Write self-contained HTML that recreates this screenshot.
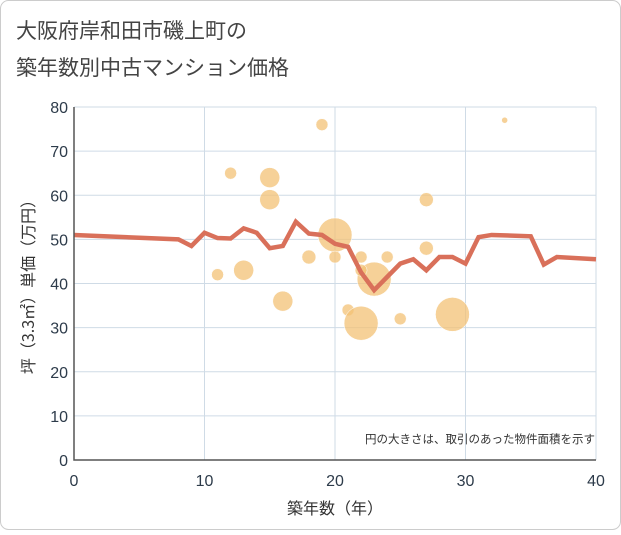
<!DOCTYPE html>
<html><head><meta charset="utf-8"><style>
body{margin:0;background:#fff;font-family:"Liberation Sans","Noto Sans CJK JP",sans-serif;}
#wrap{position:relative;width:621px;height:530px;}
</style></head><body><div id="wrap">
<svg id="chart" width="621" height="530">
<rect x="0.5" y="0.5" width="620" height="529" rx="8" fill="#fff" stroke="#ccc"/>
<text x="16" y="38" font-size="21" fill="#444" font-family="Noto Sans CJK JP,sans-serif">大阪府岸和田市磯上町の</text>
<text x="16" y="75" font-size="21" fill="#444" font-family="Noto Sans CJK JP,sans-serif">築年数別中古マンション価格</text>
<g id="grid"></g><g id="bubbles"></g><g id="line"></g><g id="axes"></g>
<text x="595" y="443" font-size="11.5" fill="#333" text-anchor="end" font-family="Noto Sans CJK JP,sans-serif">円の大きさは、取引のあった物件面積を示す</text>
<text x="335" y="514" font-size="16" fill="#333" text-anchor="middle" font-family="Noto Sans CJK JP,sans-serif">築年数（年）</text>
<text transform="translate(34,283) rotate(-90)" font-size="16" fill="#333" text-anchor="middle" font-family="Noto Sans CJK JP,sans-serif">坪（3.3㎡）単価（万円）</text>
</svg></div>
<script>
const xTicks=[0,10,20,30,40];
const yTicks=[0,10,20,30,40,50,60,70,80];
const lineYears=[0,8,9,10,11,12,13,14,15,16,17,18,19,20,21,22,23,24,25,26,27,28,29,30,31,32,35,36,37,40];
const linePrices=[51,50,48.5,51.5,50.3,50.2,52.5,51.5,48,48.5,54,51.3,51,49,48.3,42.5,38.5,41.5,44.5,45.5,43,46,46,44.5,50.5,51,50.7,44.3,46,45.5];
const bubbleYears=[19,33,12,15,15,27,20,27,18,20,22,24,11,13,23,22,16,21,22,25,29];
const bubblePrices=[76,77,65,64,59,59,51,48,46,46,46,46,42,43,41,43,36,34,31,32,33];
const bubbleSizes=[6,3,6,10,10,7,17,7,7,6,6,6,6,10,17,6,10,6,17,6,17];
const NS="http://www.w3.org/2000/svg";
const X0=74,X1=596,Y0=460,Y1=107;
const sx=v=>X0+(v-0)/(40)*(X1-X0);
const sy=v=>Y0-(v/80)*(Y0-Y1);
function mk(t,a,p){const e=document.createElementNS(NS,t);for(const k in a)e.setAttribute(k,a[k]);p.appendChild(e);return e;}
const grid=document.getElementById('grid'),axes=document.getElementById('axes');
yTicks.forEach(v=>{const l=mk('line',{x1:X0,x2:X1,y1:sy(v),y2:sy(v),stroke:'#cfdbe6'},grid);


const t=mk('text',{x:X0-6,y:sy(v)+6,'font-size':16,fill:'#2d3b4a','text-anchor':'end'},axes);t.textContent=v;

});
xTicks.forEach(v=>{const l=mk('line',{x1:sx(v),x2:sx(v),y1:Y1,y2:Y0,stroke:'#cfdbe6'},grid);


const t=mk('text',{x:sx(v),y:Y0+26,'font-size':16,fill:'#2d3b4a','text-anchor':'middle'},axes);t.textContent=v;

});
const ax=mk('path',{d:`M${X0},${Y1}V${Y0}H${X1}`,stroke:'#555',fill:'none','stroke-width':1.5},axes);


const bg=document.getElementById('bubbles');
bubbleYears.forEach((y,i)=>{const c=mk('circle',{cx:sx(y),cy:sy(bubblePrices[i]),r:bubbleSizes[i],fill:'#f3c276','fill-opacity':0.75,stroke:'#fff','stroke-width':0.5},bg);

});
const p=mk('polyline',{points:lineYears.map((y,i)=>sx(y)+','+sy(linePrices[i])).join(' '),fill:'none',stroke:'#d9705a','stroke-width':4.5,'stroke-linejoin':'miter'},document.getElementById('line'));


</script></body></html>
